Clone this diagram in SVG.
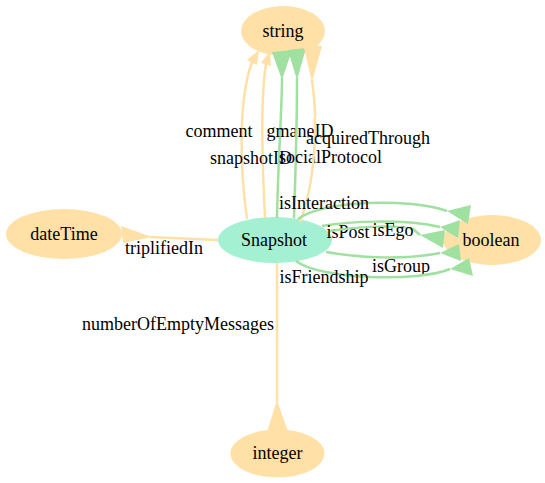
<svg xmlns="http://www.w3.org/2000/svg" width="545" height="483" viewBox="0 0 545 483">
<style>
.node ellipse{stroke:none}
.lit{fill:#ffe0a6}
.cls{fill:#a3f0d3}
text{font-family:"Liberation Serif","Times New Roman",serif;font-size:18px;fill:#000;text-anchor:middle}
.eo{fill:none;stroke:#ffe0a6;stroke-width:2.5}
.eg{fill:none;stroke:#a0e0a0;stroke-width:2.5}
.ho{fill:#ffe0a6;stroke:none}
.hg{fill:#a0e0a0;stroke:none}
</style>
<rect width="545" height="483" fill="#fff"/>
<g id="node-string" class="node"><ellipse class="lit" cx="283" cy="31" rx="42" ry="25"/><text x="283" y="37">string</text></g>
<g id="node-dateTime" class="node"><ellipse class="lit" cx="64" cy="234" rx="58" ry="25"/><text x="64" y="240">dateTime</text></g>
<g id="node-boolean" class="node"><ellipse class="lit" cx="492" cy="240" rx="49" ry="25"/><text x="491" y="246">boolean</text></g>
<g id="node-integer" class="node"><ellipse class="lit" cx="277.5" cy="453.5" rx="47" ry="24"/><text x="277.5" y="459">integer</text></g>
<g id="node-Snapshot" class="node"><ellipse class="cls" cx="275" cy="240" rx="57" ry="23"/><text x="274" y="246">Snapshot</text></g>
<g id="edges">
<g id="e-comment"><path class="eo" d="M247,219 C240,170 238,100 252,62"/><polygon class="ho" points="259,50 247,60 257,65"/><text x="219" y="137">comment</text></g>
<g id="e-snapshotID"><path class="eo" d="M265,218 C262,160 260,100 266,64"/><polygon class="ho" points="270,51 261,63 271,66"/><text x="251" y="164">snapshotID</text></g>
<g id="e-gmaneID"><path class="eg" d="M277,218 C278,160 282,110 282,78"/><polygon class="hg" points="272,52 292,50 282,80"/><text x="300" y="137">gmaneID</text></g>
<g id="e-socialProtocol"><path class="eg" d="M294,218 C296,160 297,110 297,78"/><polygon class="hg" points="288,50 306,48 297,80"/><text x="330.5" y="163">socialProtocol</text></g>
<g id="e-acquiredThrough"><path class="eo" d="M300,222 C316,180 318,120 312,80"/><polygon class="ho" points="303,44 322,46 312,82"/><text x="368" y="144">acquiredThrough</text></g>
<g id="e-triplifiedIn"><path class="eo" d="M218,240 L150,237"/><polygon class="ho" points="121,226 123,243 152,237"/><text x="164" y="254">triplifiedIn</text></g>
<g id="e-numberOfEmptyMessages"><path class="eo" d="M277,263 L277,402"/><polygon class="ho" points="277,400 267,432 288,432"/><text x="178" y="330">numberOfEmptyMessages</text></g>
<g id="e-isInteraction"><path class="eg" d="M298,219 C322,200 410,198 447,211"/><polygon class="hg" points="447,211 471,205 468,224"/><text x="324" y="209">isInteraction</text></g>
<g id="e-isPost"><path class="eg" d="M322,226 C350,221 405,219 440,227"/><polygon class="hg" points="440,227 460,220 458,238"/><text x="348" y="238">isPost</text></g>
<g id="e-isEgo"><path class="eg" d="M330,231 C360,226 398,225 413,229 L420,235"/><polygon class="hg" points="420,235 445,230 443,248"/><text x="393" y="236">isEgo</text></g>
<g id="e-isGroup"><path class="eg" d="M326,252 C360,258 405,260 440,253"/><polygon class="hg" points="440,253 459,244 461,261"/><text x="401" y="272">isGroup</text></g>
<g id="e-isFriendship"><path class="eg" d="M296,261 C320,280 420,282 450,269"/><polygon class="hg" points="450,269 469,258 473,276"/><text x="324" y="283">isFriendship</text></g>
</g>
</svg>
